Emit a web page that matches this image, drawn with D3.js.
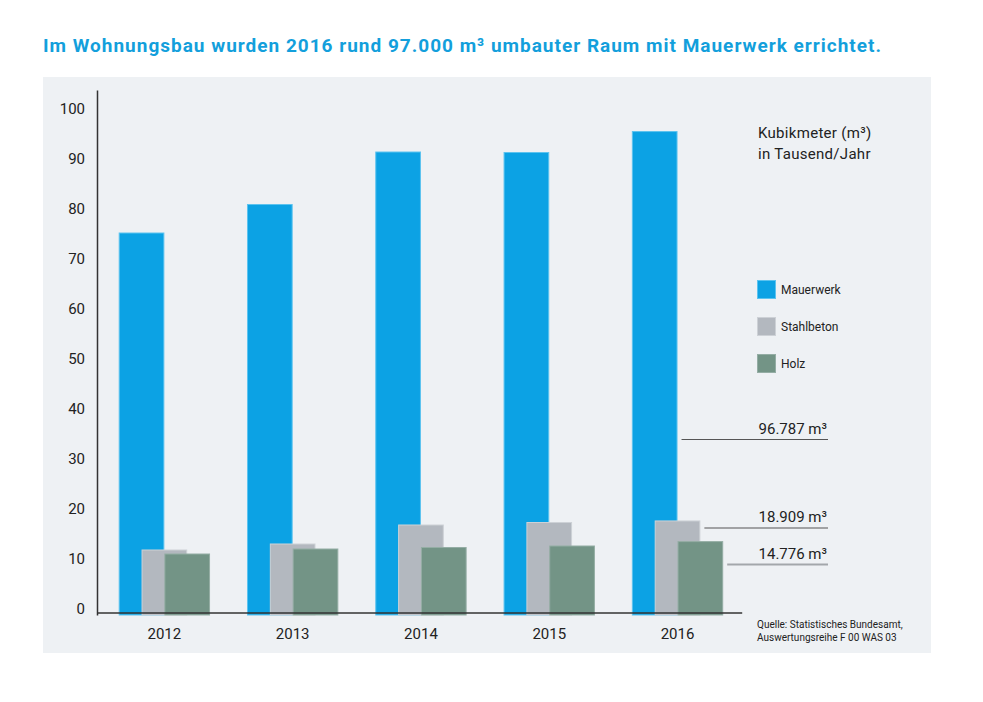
<!DOCTYPE html>
<html>
<head>
<meta charset="utf-8">
<script src="https://cdn.jsdelivr.net/npm/d3@7"></script>
<style>
  body { margin: 0; background: #fff; }
  text { font-family: Roboto, "Noto Sans", sans-serif; }
</style>
</head>
<body>
<div id="chart"></div>
<script>
const years = ['2012', '2013', '2014', '2015', '2016'];
const series = ['Mauerwerk', 'Stahlbeton', 'Holz'];
const mauerwerk = [76.5, 82.2, 92.7, 92.6, 96.787];
const stahlbeton = [13.1, 14.3, 18.1, 18.6, 18.909];
const holz = [12.3, 13.3, 13.6, 13.9, 14.776];
const yTicks = [0, 10, 20, 30, 40, 50, 60, 70, 80, 90, 100];
const callouts = ['96.787 m³', '18.909 m³', '14.776 m³'];

const colors = { Mauerwerk: '#0ca2e4', Stahlbeton: '#b3b8bf', Holz: '#739486' };
const edges = { Mauerwerk: '#5cc3ef', Stahlbeton: '#cdd1d6', Holz: '#94ada4' };

const width = 983, height = 702;
const svg = d3.select('#chart').append('svg')
  .attr('width', width).attr('height', height);

// grey panel
svg.append('rect')
  .attr('x', 43).attr('y', 77).attr('width', 888).attr('height', 576)
  .attr('fill', '#eef1f4');

svg.append('text')
  .attr('x', 43).attr('y', 52)
  .attr('font-size', '19px').attr('font-weight', 'bold')
  .attr('font-family', '"Open Sans", Roboto, sans-serif')
  .attr('letter-spacing', '1px')
  .attr('fill', '#139fdc')
  .text('Im Wohnungsbau wurden 2016 rund 97.000 m³ umbauter Raum mit Mauerwerk errichtet.');

const y = d3.scaleLinear().domain([0, 105]).range([615, 90]);
const x = d3.scaleBand().domain(years).range([118.7, 723.2]).paddingInner(0.288).paddingOuter(0);
const barW = x.bandwidth() / 2;
const xs = d3.scalePoint().domain(series).range([0, barW]);

const data = years.map((yr, i) => ({
  year: yr,
  values: [
    { key: 'Mauerwerk', v: mauerwerk[i] },
    { key: 'Stahlbeton', v: stahlbeton[i] },
    { key: 'Holz', v: holz[i] }
  ]
}));

const groups = svg.append('g').selectAll('g')
  .data(data).enter().append('g')
  .attr('transform', d => `translate(${x(d.year)},0)`);

groups.selectAll('rect')
  .data(d => d.values).enter().append('rect')
  .attr('x', d => xs(d.key) + 0.5)
  .attr('y', d => y(d.v) + 0.5)
  .attr('width', barW - 1)
  .attr('height', d => y(0) - y(d.v) - 0.5)
  .attr('fill', d => colors[d.key])
  .attr('stroke', d => edges[d.key])
  .attr('stroke-width', 1);

// y axis
const yAxis = svg.append('g')
  .attr('transform', 'translate(97,0)')
  .call(d3.axisLeft(y).tickValues(yTicks).tickSize(0).tickPadding(12).tickSizeOuter(0));
yAxis.select('.domain').attr('stroke', '#333').attr('stroke-width', 1.5);
yAxis.selectAll('text').attr('font-size', '15px').attr('fill', '#222').attr('y', -6)
  .attr('font-family', 'Roboto, sans-serif');

// baseline
const baseY = y(0) - 2;
svg.append('line')
  .attr('x1', 97).attr('x2', x.range()[1] + 19)
  .attr('y1', baseY).attr('y2', baseY)
  .attr('stroke', '#333').attr('stroke-width', 1.5);

const xAxis = svg.append('g')
  .attr('transform', `translate(0,${baseY})`)
  .call(d3.axisBottom(x).tickSize(0).tickPadding(15));
xAxis.select('.domain').remove();
xAxis.selectAll('text').attr('font-size', '15px').attr('fill', '#222')
  .attr('font-family', 'Roboto, sans-serif');

// unit label
const unit = svg.append('text').attr('x', 758).attr('y', 138)
  .attr('font-size', '15px').attr('letter-spacing', '0.3px').attr('fill', '#222');
unit.append('tspan').attr('x', 758).text('Kubikmeter (m³)');
unit.append('tspan').attr('x', 758).attr('dy', 21).text('in Tausend/Jahr');

// legend
const legend = svg.append('g').selectAll('g')
  .data(series).enter().append('g')
  .attr('transform', (d, i) => `translate(757,${280 + i * 37})`);
legend.append('rect')
  .attr('x', 0.5).attr('y', 0.5)
  .attr('width', 18).attr('height', 18)
  .attr('fill', d => colors[d]).attr('stroke', d => edges[d]);
legend.append('text')
  .attr('x', 24).attr('y', 10).attr('dy', '0.35em')
  .attr('font-size', '12px').attr('fill', '#222')
  .text(d => d);

// callouts for 2016
const last = data[data.length - 1];
const calloutY = [439.5, 528, 564.5];
const calloutCol = ['#555', '#555', '#a3a7ab'];
const calloutW = [1.2, 1.2, 2];
last.values.forEach((d, i) => {
  const x1 = x(last.year) + xs(d.key) + barW + 4;
  svg.append('line')
    .attr('x1', x1).attr('x2', 828)
    .attr('y1', calloutY[i]).attr('y2', calloutY[i])
    .attr('stroke', calloutCol[i]).attr('stroke-width', calloutW[i]);
  svg.append('text')
    .attr('x', 827).attr('y', calloutY[i] - 6)
    .attr('text-anchor', 'end')
    .attr('font-size', '15px').attr('fill', '#222')
    .text(callouts[i]);
});

// source
const src = svg.append('text').attr('x', 757).attr('y', 628)
  .attr('font-size', '10px').attr('fill', '#222');
src.append('tspan').attr('x', 757).text('Quelle: Statistisches Bundesamt,');
src.append('tspan').attr('x', 757).attr('dy', 12.5).text('Auswertungsreihe F 00 WAS 03');
</script>
</body>
</html>
